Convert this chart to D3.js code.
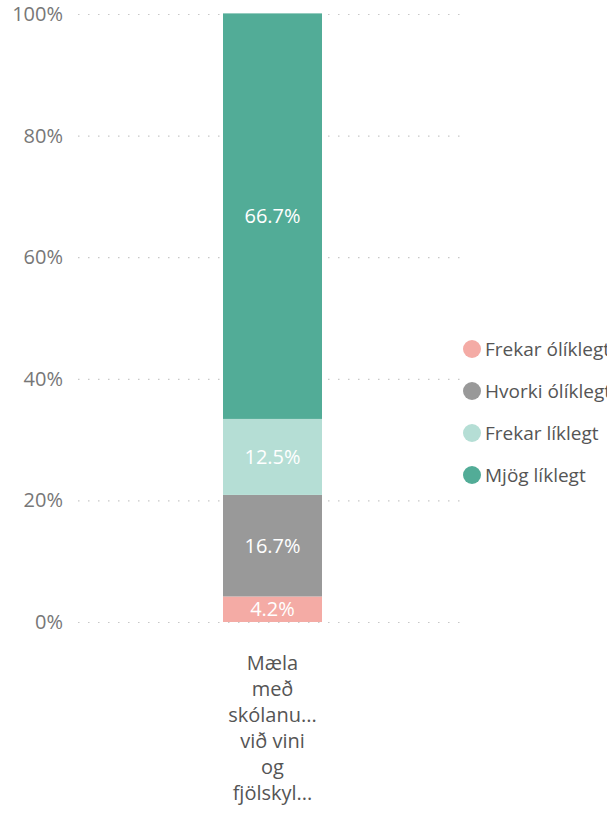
<!DOCTYPE html>
<html lang="is">
<head>
<meta charset="utf-8">
<title>Mæla með skólanum</title>
<script src="https://cdn.jsdelivr.net/npm/d3@7"></script>
<style>
  body { margin: 0; background: #fff; }
  svg { display: block; font-family: "Open Sans", "DejaVu Sans", sans-serif; }
</style>
</head>
<body>
<script>
// data
var categories = ["Mæla með skólanum við vini og fjölskyldu"];
var categoryLines = ["Mæla", "með", "skólanu...", "við vini", "og", "fjölskyl..."];
var seriesNames = ["Frekar ólíklegt", "Hvorki ólíklegt", "Frekar líklegt", "Mjög líklegt"];
var seriesValues = [4.2, 16.7, 12.5, 66.7];
var seriesColors = ["#F4ABA5", "#999999", "#B5DED5", "#52AC97"];
var tickValues = [0, 20, 40, 60, 80, 100];

var width = 607, height = 822;

var svg = d3.select("body").append("svg")
    .attr("width", width)
    .attr("height", height);

var y = d3.scaleLinear().domain([0, 100]).range([622, 14]);
var x = d3.scaleBand().domain(categories).range([223, 322]);

// gridlines + labels
var yAxis = d3.axisLeft(y).tickValues(tickValues)
    .tickFormat(function (d) { return d + "%"; })
    .tickSize(-(462 - 78))
    .tickPadding(15);

var ga = svg.append("g").attr("transform", "translate(78,0)").call(yAxis);
ga.select(".domain").remove();
ga.selectAll(".tick line")
    .attr("stroke", "#c8c8c8")
    .attr("stroke-width", 1.2)
    .attr("stroke-dasharray", "1.5,8.5");
ga.selectAll(".tick text")
    .attr("fill", "#777")
    .attr("font-size", 20)
    .attr("font-family", "'Open Sans', sans-serif");

// stacked segments
var rows = [{}];
seriesNames.forEach(function (s, i) { rows[0][s] = seriesValues[i]; });
rows[0].cat = categories[0];
var stacked = d3.stack().keys(seriesNames)(rows);

var bw = x.bandwidth();
var layer = svg.selectAll(".layer").data(stacked).enter().append("g")
    .attr("fill", function (d, i) { return seriesColors[i]; });

layer.append("rect")
    .attr("x", function (d) { return x(d[0].data.cat); })
    .attr("width", bw)
    .attr("y", function (d) { return y(d[0][1]); })
    .attr("height", function (d) { return y(d[0][0]) - y(d[0][1]); });

layer.append("text")
    .attr("x", function (d) { return x(d[0].data.cat) + bw / 2; })
    .attr("y", function (d) { return (y(d[0][0]) + y(d[0][1])) / 2; })
    .attr("dy", "0.36em")
    .attr("text-anchor", "middle")
    .attr("fill", "#fff")
    .attr("font-size", 20)
    .text(function (d, i) { return seriesValues[i].toFixed(1) + "%"; });

// category label
var lab = svg.append("text")
    .attr("text-anchor", "middle")
    .attr("fill", "#555")
    .attr("font-size", 20);
categoryLines.forEach(function (t, i) {
    lab.append("tspan")
        .attr("x", x(categories[0]) + bw / 2)
        .attr("y", 670 + i * 26)
        .text(t);
});

// legend
var legend = svg.append("g");
var li = legend.selectAll("g").data(seriesNames).enter().append("g")
    .attr("transform", function (d, i) { return "translate(472," + (349 + i * 42) + ")"; });
li.append("circle").attr("r", 9).attr("cx", 0)
    .attr("fill", function (d, i) { return seriesColors[i]; });
li.append("text")
    .attr("x", 13)
    .attr("dy", "0.36em")
    .attr("fill", "#555")
    .attr("font-size", 19)
    .text(function (d) { return d; });
</script>
</body>
</html>
